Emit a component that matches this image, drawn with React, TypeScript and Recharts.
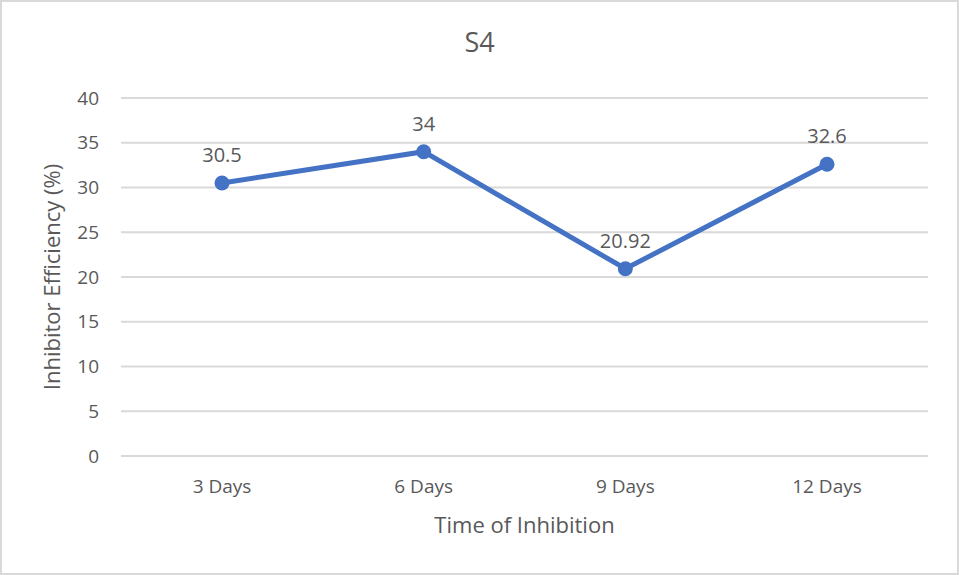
import React from 'react';
import {
    LineChart,
    Line,
    XAxis,
    YAxis,
    CartesianGrid,
    LabelList,
} from 'recharts';

const days = ['3 Days', '6 Days', '9 Days', '12 Days'];
const efficiency = [30.5, 34, 20.92, 32.6];
const yTicks = [0, 5, 10, 15, 20, 25, 30, 35, 40];

const data = days.map((d, i) => ({ day: d, value: efficiency[i] }));

const FONT = '"Open Sans", sans-serif';
const TEXT = '#595959';

export default function App() {
    return (
        <div
            style={{
                position: 'absolute',
                left: 0,
                top: 0,
                width: 959,
                height: 575,
                boxSizing: 'border-box',
                border: '2px solid #D9D9D9',
                background: '#fff',
                fontFamily: FONT,
            }}
        >
            <div
                style={{
                    position: 'absolute',
                    top: 21,
                    left: 0,
                    width: '100%',
                    textAlign: 'center',
                    fontSize: 27,
                    color: TEXT,
                }}
            >
                S4
            </div>
            <div style={{ position: 'absolute', left: -2, top: -2 }}>
                <LineChart
                    width={959}
                    height={575}
                    data={data}
                    margin={{ top: 98, right: 31, bottom: 10, left: 40 }}
                >
                    <CartesianGrid vertical={false} stroke='#D9D9D9' strokeWidth={2} />
                    <XAxis
                        dataKey='day'
                        axisLine={false}
                        tickLine={false}
                        tickSize={0}
                        tickMargin={24}
                        height={109}
                        padding={{ left: 101, right: 101 }}
                        tick={{ fill: TEXT, fontSize: 19, fontFamily: FONT }}
                        label={{
                            value: 'Time of Inhibition',
                            position: 'insideBottom',
                            offset: 32,
                            fill: TEXT,
                            fontSize: 22,
                            fontFamily: FONT,
                        }}
                    />
                    <YAxis
                        domain={[0, 40]}
                        ticks={yTicks}
                        interval={0}
                        axisLine={false}
                        tickLine={false}
                        tickSize={0}
                        tickMargin={22}
                        width={81}
                        tick={{ fill: TEXT, fontSize: 19, fontFamily: FONT }}
                        label={{
                            value: 'Inhibitor Efficiency (%)',
                            angle: -90,
                            position: 'insideLeft',
                            offset: 12,
                            style: { textAnchor: 'middle' },
                            fill: TEXT,
                            fontSize: 22,
                            fontFamily: FONT,
                        }}
                    />
                    <Line
                        type='linear'
                        dataKey='value'
                        stroke='#4472C4'
                        strokeWidth={5}
                        dot={{ r: 7.5, fill: '#4472C4', stroke: '#4472C4', strokeWidth: 0 }}
                        activeDot={false}
                        isAnimationActive={false}
                    >
                        <LabelList
                            dataKey='value'
                            position='top'
                            offset={21}
                            fill={TEXT}
                            fontSize={20}
                            fontFamily={FONT}
                        />
                    </Line>
                </LineChart>
            </div>
        </div>
    );
}
